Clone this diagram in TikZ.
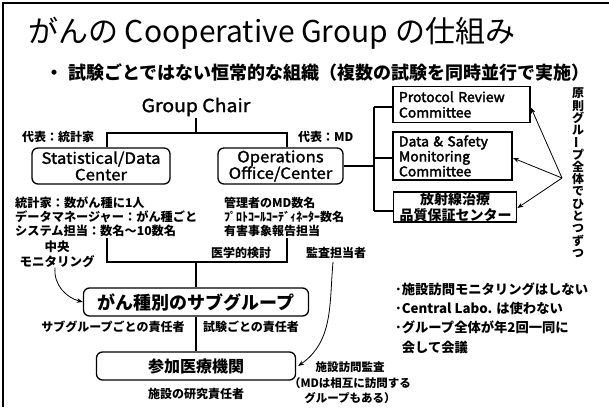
\documentclass[tikz,border=0pt]{standalone}
\usepackage{fontspec}
\setmainfont{Noto Sans CJK JP}
\newfontfamily\boxfont{Noto Sans CJK JP}[FakeStretch=1.08, FakeBold=1.5]
\newfontfamily\comfont{Noto Sans CJK JP}[FakeStretch=1.03, FakeBold=2.5]
\usetikzlibrary{arrows.meta}
\newcommand\fz[1]{\fontsize{#1}{#1}\selectfont}
\begin{document}
\begin{tikzpicture}[x=1pt,y=-1pt,
  lbl/.style={inner sep=0pt, font=\bfseries\fz{12}},
  rbox/.style={draw, rounded corners=6pt, line width=1.3pt, align=center, inner sep=0pt},
  cbox/.style={draw, line width=1.8pt, inner xsep=6pt, inner ysep=0pt},
  conn/.style={line width=1.1pt},
  arr/.style={line width=0.8pt, -{Stealth[length=6pt,width=4.5pt]}}]
\useasboundingbox (0,0) rectangle (609,407);
\fill[white] (0,0) rectangle (609,407);
\draw[line width=2pt] (3,407) -- (3,3) -- (609,3);

% title
\node[anchor=west, inner sep=0pt, font=\fz{30}] (title) at (28,33) {がんの Cooperative Group の仕組み};
\node[anchor=west, inner sep=0pt, font=\bfseries\fz{18}] (subt) at (45,73) {・\hspace{5pt}試験ごとではない恒常的な組織（複数の試験を同時並行で実施）};

% top hierarchy
\node[font=\boxfont\fz{18}, inner sep=2pt] (chair) at (196,107) {Group Chair};
\node[lbl, anchor=west] (lstat) at (22,137) {代表：統計家};
\node[lbl, anchor=west] (lops) at (298,137) {代表：MD};
\node[rbox, minimum width=138pt, minimum height=36pt, font=\boxfont\fontsize{15.5}{16.5}\selectfont] (stat) at (101,166) {Statistical/Data\\Center};
\node[rbox, minimum width=125pt, minimum height=36pt, font=\boxfont\fontsize{15.5}{16.5}\selectfont] (ops) at (280.5,166) {Operations\\Office/Center};
\coordinate (jtop) at (196,133);
\draw[conn] (chair.south) -- (jtop);
\draw[conn] ([xshift=6pt]stat.north) |- (jtop) -| ([xshift=6.5pt]ops.north);

% committees
\node[cbox, text width=125pt, minimum height=36pt, align=left, font=\comfont\fontsize{13.5}{15.5}\selectfont] (prc) at (461.5,104.5) {Protocol Review\\Committee};
\node[cbox, text width=107pt, minimum height=48pt, align=left, font=\comfont\fontsize{13.5}{15}\selectfont] (dsmc) at (452.5,156) {Data \& Safety\\Monitoring\\Committee};
\node[cbox, text width=111pt, minimum height=30pt, align=center, font=\bfseries\fontsize{14}{15.5}\selectfont] (rad) at (455,207) {放射線治療\\品質保証センター};
\coordinate (bt) at (374,107);
\coordinate (bb) at (374,211);
\draw[conn] (bt) -- (bb);
\draw[conn] (ops.east) -- (ops.east -| bt);
\draw[conn] (prc.west |- bt) -- (bt);
\draw[conn] ([yshift=-2pt]dsmc.west) -- ++(-19,0);
\draw[conn] (rad.west |- bb) -- (bb);

% vertical note
\foreach \c [count=\i] in {原,則,グ,ル,{\rotatebox[origin=c]{90}{ー}},プ,全,体,で,ひ,と,つ,ず,つ}
  \node[inner sep=0pt, font=\bfseries\fz{12}] (v\i) at (578,81+\i*12.3) {\c};
\coordinate (vt) at (562,178);
\draw[arr] (vt) -- ([yshift=-3pt]prc.east);
\draw[arr] (vt) -- ([yshift=-2pt]dsmc.east);
\draw[arr] (vt) -- ([yshift=-1pt]rad.east);

% staff lists
\node[anchor=west, align=left, inner sep=0pt, font=\bfseries\fontsize{12.2}{14}\selectfont] (stxt) at (15,217) {統計家：数がん種に1人\\データマネージャー：がん種ごと\\システム担当：数名～10数名};
\node[anchor=west, align=left, inner sep=0pt, font=\bfseries\fontsize{12}{14}\selectfont] (otxt) at (224,217) {管理者のMD数名\\ﾌﾟﾛﾄｺｰﾙｺｰﾃﾞｨﾈｰﾀｰ数名\\有害事象報告担当};
\node[lbl] (med) at (241,253) {医学的検討};
\node[lbl] (audit) at (336,253) {監査担当者};
\node[align=center, inner sep=0pt, font=\bfseries\fontsize{12.5}{15}\selectfont] (chuo) at (57,254) {中央\\モニタリング};

% lower hierarchy
\node[rbox, minimum width=225pt, minimum height=28pt, font=\bfseries\fz{18}] (sgrp) at (196,302) {がん種別のサブグループ};
\node[rbox, minimum width=199pt, minimum height=28pt, font=\bfseries\fz{16}] (part) at (196,366) {参加医療機関};
\coordinate (la) at (107,238);
\coordinate (lb) at (287,238);
\coordinate (hj) at (196,262);
\draw[conn] (la) |- (hj) -| (lb);
\draw[conn] (hj) -- (sgrp.north);
\draw[conn] (sgrp.south) -- (part.north);
\node[lbl] (sgl) at (113,327) {サブグループごとの責任者};
\node[lbl] (trl) at (251,327) {試験ごとの責任者};
\node[lbl] (inst) at (196,394) {施設の研究責任者};
\node[align=center, inner sep=0pt, font=\bfseries\fontsize{11.5}{15.5}\selectfont] (visit) at (350,383) {施設訪問監査\\（MDは相互に訪問する\\グループもある）};

\draw[arr] ([xshift=-2pt]chuo.south) to[out=-95,in=165] (sgrp.west);
\draw[arr] ([yshift=-3pt,xshift=-3pt]audit.south) to[out=-95,in=35] ([xshift=2pt]part.east);

% notes
\node[anchor=west, align=left, inner sep=0pt, font=\bfseries\fontsize{13.3}{19.3}\selectfont] (notes) at (395,318) {･施設訪問モニタリングはしない\\･Central Labo. は使わない\\･グループ全体が年2回一同に\\\phantom{･}会して会議};
\end{tikzpicture}
\end{document}
